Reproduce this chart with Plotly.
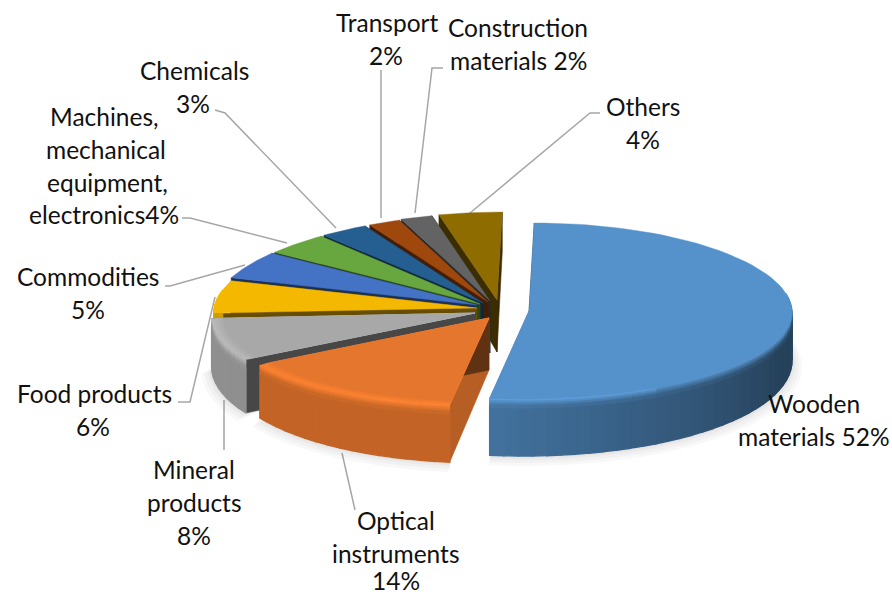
import math
import plotly.graph_objects as go

# ---- data ----
categories = ["Wooden materials", "Optical instruments", "Mineral products", "Food products",
              "Commodities", "Machines, mechanical equipment, electronics", "Chemicals",
              "Transport", "Construction materials", "Others"]
shares = [52, 14, 8, 6, 5, 4, 3, 2, 2, 4]

# ---- styles ----
top_colors = ["#5592cb", "#e5762d", "#a8a8a8", "#f4b800", "#4472c4",
              "#68a73f", "#255e91", "#9e480e", "#636363", "#8f6c00"]
apex_px = [(529, 311), (489, 318), (475, 313), (477, 308), (477, 305),
           (480, 304), (483, 303), (488, 302), (490, 301), (497, 300)]
RAD_A, RAD_B, PERSP, SHEAR = 263.0, 88.0, 0.035, 0.06
label_lines = [
    ("Wooden", 814, 403), ("materials 52%", 814, 436),
    ("Optical", 396, 520), ("instruments", 396, 553), ("14%", 396, 580),
    ("Mineral", 194, 469), ("products", 194, 502), ("8%", 194, 535),
    ("Food products", 94, 393), ("6%", 93, 426),
    ("Commodities", 88, 276), ("5%", 88, 309),
    ("Machines,", 104, 116), ("mechanical", 106, 149), ("equipment,", 107, 182), ("electronics4%", 104, 214),
    ("Chemicals", 194, 70), ("3%", 193, 103),
    ("Transport", 387, 22), ("2%", 386, 55),
    ("Construction", 518, 27), ("materials 2%", 518, 60),
    ("Others", 643, 106), ("4%", 643, 139),
]
leaders = [
    [(470, 213), (590, 113), (600, 113)],
    [(415, 213), (432, 68), (443, 68)],
    [(381, 218), (381, 70)],
    [(336, 228), (225, 113), (215, 110)],
    [(287, 243), (190, 218), (182, 218)],
    [(245, 265), (170, 286), (165, 286)],
    [(215, 297), (190, 402), (178, 402)],
    [(224, 400), (224, 450)],
    [(342, 453), (355, 510)],
]


def rgb(h):
    return [int(h[i:i + 2], 16) for i in (1, 3, 5)]


def css(c):
    return "rgb(%d,%d,%d)" % tuple(max(0, min(255, round(v))) for v in c)


def mix(a, b, f):
    return [x + (y - x) * f for x, y in zip(a, b)]


def scale(c, f):
    return [v * f for v in c]


def rim(apex, deg, z=0.0, grow=0.0):
    t = math.radians(deg)
    a = RAD_A * (1 - PERSP * math.cos(t)) + grow
    return (apex[0] + a * math.sin(t) + SHEAR * RAD_B * math.cos(t),
            apex[1] - (RAD_B + grow * 0.4) * math.cos(t) + z)


def depth(deg):
    return 48 - 9 * math.cos(math.radians(deg))


def wall_shade(deg):
    if deg <= 110:
        return 0.45
    if deg <= 187:
        return 0.45 + 0.33 * (deg - 110) / 77
    return 0.85


fig = go.Figure()


def poly(pts, color, opacity=None, lw=0.6):
    fig.add_trace(go.Scatter(
        x=[p[0] for p in pts] + [pts[0][0]], y=[p[1] for p in pts] + [pts[0][1]],
        mode="lines", fill="toself", fillcolor=color,
        line=dict(color=color, width=lw), opacity=opacity,
        hoverinfo="skip", showlegend=False))


# leader lines
for path in leaders:
    fig.add_trace(go.Scatter(x=[p[0] for p in path], y=[p[1] for p in path], mode="lines",
                             line=dict(color="#a6a6a6", width=1.5),
                             hoverinfo="skip", showlegend=False))

# slice angular extents
bounds = []
run = 0.0
total = sum(shares)
for s in shares:
    bounds.append((run * 360 / total, (run + s) * 360 / total))
    run += s

# soft shadow under the pie
for idx in (0, 1, 2):
    a0, a1 = bounds[idx]
    for g in (10, 7, 4, 2):
        arc = [rim(apex_px[idx], a0 + (a1 - a0) * i / 60, depth(a0 + (a1 - a0) * i / 60) + g * 0.6, g)
               for i in range(61)]
        poly([apex_px[idx]] + arc, "rgb(120,120,120)", opacity=0.05, lw=0)

# paint from the back of the pie to the front
for idx in [9, 8, 7, 6, 5, 4, 3, 2, 1, 0]:
    a0, a1 = bounds[idx]
    apex = apex_px[idx]
    top = rgb(top_colors[idx])
    bottom_apex = (apex[0], apex[1] + 52)

    # radial faces
    for ang in (a0, a1):
        rf = 0.8 if math.cos(math.radians(ang)) < -0.9 else 0.42
        p = rim(apex, ang)
        q = rim(apex, ang, depth(ang))
        poly([apex, p, q, bottom_apex], css(scale(top, rf)))

    # outer wall in small shaded tiles
    n = max(1, int((a1 - a0) / 3))
    bands = [0, 2, 4, 6, 9]
    for i in range(n):
        s0 = a0 + (a1 - a0) * i / n
        s1 = a0 + (a1 - a0) * (i + 1) / n
        mid = (s0 + s1) / 2
        if math.cos(math.radians(mid)) > 0.2:
            continue
        wall = scale(top, wall_shade(mid))
        hi = scale(top, 1.12) if mid > 150 else top
        poly([rim(apex, s0, 8), rim(apex, s1, 8), rim(apex, s1, depth(s1)), rim(apex, s0, depth(s0))],
             css(wall), lw=1.4)
        for b in range(4):
            z0, z1 = bands[b], bands[b + 1]
            poly([rim(apex, s0, z0), rim(apex, s1, z0), rim(apex, s1, z1), rim(apex, s0, z1)],
                 css(mix(hi, wall, (b + 0.5) / 4)), lw=1.0)

    # top face, with a lit band inside the rim on the two front slices
    if idx in (1, 2):
        layers = [(0, 0.0), (-3, 0.25), (-6, 0.5), (-9, 0.75), (-12, 1.0)]
    else:
        layers = [(0, 1.0)]
    hi = scale(top, 1.1)
    for g, f in layers:
        arc = [rim(apex, a0 + (a1 - a0) * i / 80, 0, g) for i in range(81)]
        poly([apex] + arc, css(mix(hi, top, f)), lw=0.4)

annots = [dict(x=x, y=y, xref="x", yref="y", text=t, showarrow=False, xanchor="center", yanchor="middle",
               borderpad=0, font=dict(family="Lato, Carlito, sans-serif", size=24.5, color="#111111"))
          for t, x, y in label_lines]

fig.update_layout(
    width=892, height=596, margin=dict(l=0, r=0, t=0, b=0),
    paper_bgcolor="white", plot_bgcolor="white", showlegend=False, annotations=annots,
    xaxis=dict(range=[0, 892], visible=False, fixedrange=True),
    yaxis=dict(range=[596, 0], visible=False, fixedrange=True),
)
fig.write_html("out.html", post_script="document.body.style.margin='0';", config={"displayModeBar": False})
